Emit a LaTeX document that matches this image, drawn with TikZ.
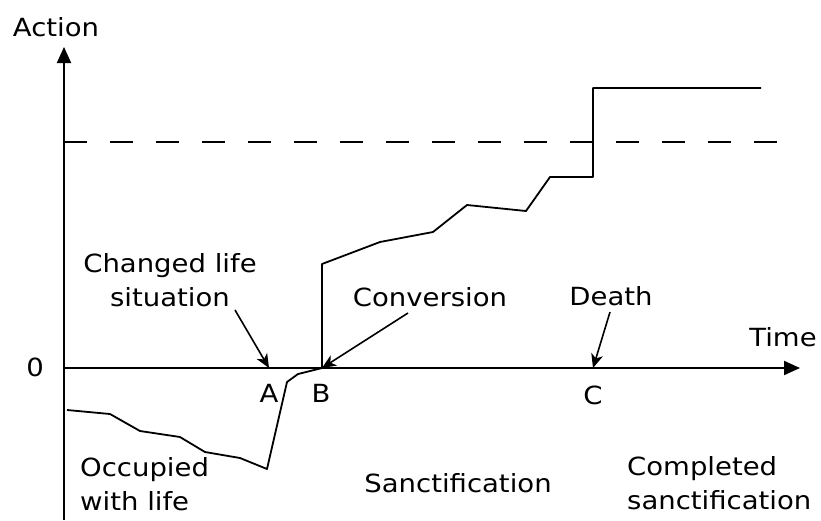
\documentclass[tikz,border=0pt]{standalone}
\usepackage{fontspec}
\setmainfont{DejaVu Sans}[FakeStretch=1.1]
\usetikzlibrary{arrows.meta,positioning}

\begin{document}
\begin{tikzpicture}[x=1pt, y=-1pt, >={Stealth[length=14pt,width=12pt,inset=4pt]},
  lbl/.style={font=\fontsize{25}{34}\selectfont, inner sep=0pt, anchor=base},
  axis/.style={line width=2pt, -{Triangle[length=16pt,width=14pt]}},
  note/.style={line width=1.6pt, ->},
  curve/.style={line width=1.8pt, line join=round}]
  \useasboundingbox (0,0) rectangle (821,520);
  \coordinate (origin) at (64,368);
  \coordinate (A) at (269,368);
  \coordinate (B) at (322,368);
  \coordinate (C) at (593,368);
  \draw[axis] (64,520) -- (64,47);
  \draw[axis] (origin) -- (800,368);
  \draw[curve, dash pattern=on 23pt off 23pt] (64,142) -- (777,142);

  \node[lbl] (action) at (56,36) {Action};
  \node[lbl] (zero) at (35,376) {0};
  \node[lbl] (time) at (783,346) {Time};
  \node[lbl] (la) at (269,402) {A};
  \node[lbl] (lb) at (321,402) {B};
  \node[lbl] (lc) at (593,404) {C};
  \node[lbl, align=center] (changed) at (170,306) {Changed life\\situation};
  \node[lbl] (conversion) at (430,306) {Conversion};
  \node[lbl] (death) at (611,305) {Death};
  \node[lbl, align=left, anchor=base west] (occupied) at (80,510) {Occupied\\with life};
  \node[lbl] (sanct) at (458,492) {Sanctification};
  \node[lbl, align=left, anchor=base west] (completed) at (627,509) {Completed\\sanctification};

  \coordinate (changedtail) at (235,310);
  \coordinate (conversiontail) at (408,313);
  \coordinate (deathtail) at (610,312);
  \draw[note] (changedtail) -- (A);
  \draw[note] (conversiontail) -- (B);
  \draw[note] (deathtail) -- (C);

  \draw[curve] (67,410) -- (110,414) -- (140,431) -- (180,437) -- (205,452)
    -- (240,458) -- (267,469) -- (287,382) -- (298,374) -- (B) -- (322,264)
    -- (380,242) -- (433,232) -- (467,205) -- (526,211) -- (550,177)
    -- (593,177) -- (593,88) -- (761,88);
\end{tikzpicture}
\end{document}
